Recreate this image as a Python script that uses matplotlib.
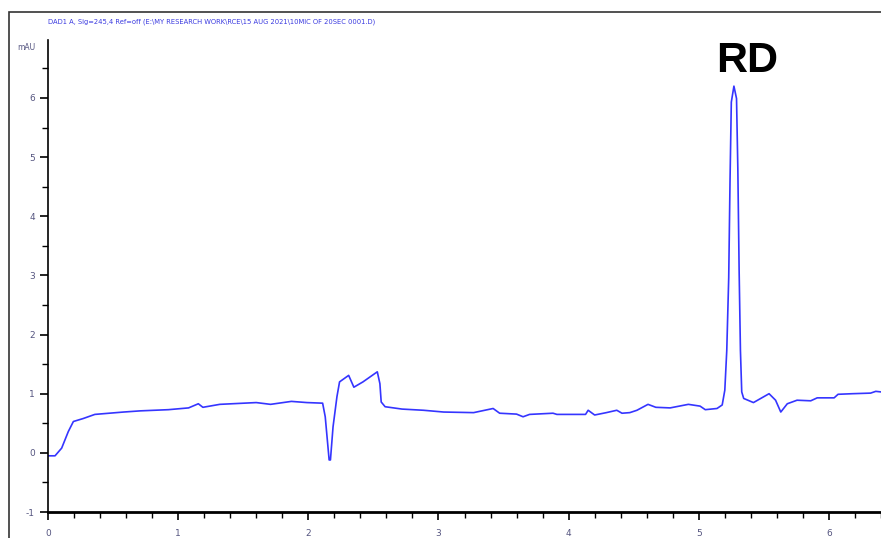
import numpy as np
import matplotlib
matplotlib.use("Agg")
import matplotlib.pyplot as plt
from matplotlib.patches import Rectangle
from matplotlib.ticker import MultipleLocator

plt.rcParams['axes.unicode_minus'] = False

# retention time (min) and absorbance (mAU)
time_min = [0.0, 0.054, 0.105, 0.156, 0.195, 0.27, 0.36, 0.58, 0.71, 0.925, 1.08, 1.155, 1.19,
            1.32, 1.60, 1.71, 1.87, 1.99, 2.11, 2.13, 2.16, 2.17, 2.19, 2.22, 2.24, 2.31, 2.35,
            2.42, 2.53, 2.55, 2.56, 2.59, 2.72, 2.885, 3.04, 3.27, 3.42, 3.47, 3.60, 3.65, 3.70,
            3.88, 3.91, 4.13, 4.15, 4.20, 4.29, 4.37, 4.41, 4.47, 4.525, 4.61, 4.67, 4.78, 4.92,
            5.01, 5.05, 5.14, 5.18, 5.20, 5.215, 5.23, 5.24, 5.25, 5.27, 5.29, 5.30, 5.31, 5.32,
            5.33, 5.345, 5.42, 5.54, 5.59, 5.63, 5.68, 5.755, 5.86, 5.91, 6.04, 6.07, 6.18, 6.32,
            6.36, 6.40]
absorbance = [-0.05, -0.05, 0.08, 0.36, 0.53, 0.58, 0.65, 0.69, 0.71, 0.73, 0.76, 0.83, 0.77,
              0.82, 0.85, 0.82, 0.87, 0.85, 0.84, 0.61, -0.12, -0.12, 0.44, 0.95, 1.2, 1.31, 1.11,
              1.2, 1.37, 1.17, 0.86, 0.78, 0.74, 0.72, 0.69, 0.68, 0.75, 0.67, 0.655, 0.61, 0.65,
              0.67, 0.65, 0.65, 0.72, 0.64, 0.68, 0.72, 0.67, 0.68, 0.72, 0.82, 0.77, 0.76, 0.82,
              0.79, 0.73, 0.75, 0.81, 1.06, 1.73, 2.96, 4.59, 5.93, 6.2, 5.99, 4.81, 3.08, 1.73,
              1.03, 0.92, 0.85, 1.0, 0.89, 0.69, 0.83, 0.89, 0.88, 0.93, 0.93, 0.99, 1.0, 1.01,
              1.04, 1.03]
peak_label = "RD"
peak_time = 5.27
title = r"DAD1 A, Sig=245,4 Ref=off (E:\MY RESEARCH WORK\RCE\15 AUG 2021\10MIC OF 20SEC 0001.D)"

fig = plt.figure(figsize=(8.81, 5.38), dpi=100)
ax = fig.add_axes([48/881, 26/538, 833/881, 472/538])

ax.plot(time_min, absorbance, color='#3535ff', lw=1.2)
ax.set_xlim(0, 6.40)
ax.set_ylim(-1, 6.98)

# chemstation style axes
for s in ['top', 'right']:
    ax.spines[s].set_visible(False)
ax.spines['left'].set_linewidth(1.2)
ax.spines['bottom'].set_linewidth(2.0)
ax.xaxis.set_major_locator(MultipleLocator(1))
ax.xaxis.set_minor_locator(MultipleLocator(0.2))
ax.yaxis.set_major_locator(MultipleLocator(1))
ax.yaxis.set_minor_locator(MultipleLocator(0.5))
ax.tick_params(axis='both', which='major', length=6, width=1.2, labelsize=6.5,
               labelcolor='#555580', color='black')
ax.tick_params(axis='both', which='minor', length=4, width=1.0, color='black')
ax.tick_params(axis='x', pad=6)

ax.text(-0.1, 6.85, 'mAU', fontsize=5.5, color='#555580', ha='right', va='center')
ax.text(peak_time + 0.1, 6.44, peak_label, fontsize=31, fontweight='bold',
        family='Liberation Sans', ha='center', va='baseline')

fig.text(48/881, 1 - 22/538, title, fontsize=4.9, color='#3a3ae0', ha='left', va='center')

# outer frame of the report
fig.patches.append(Rectangle((9/881, -0.1), 1.2, 1 - 12/538 + 0.1, transform=fig.transFigure,
                             fill=False, edgecolor='#333333', lw=1.2))

plt.savefig('out.png', dpi=100)
